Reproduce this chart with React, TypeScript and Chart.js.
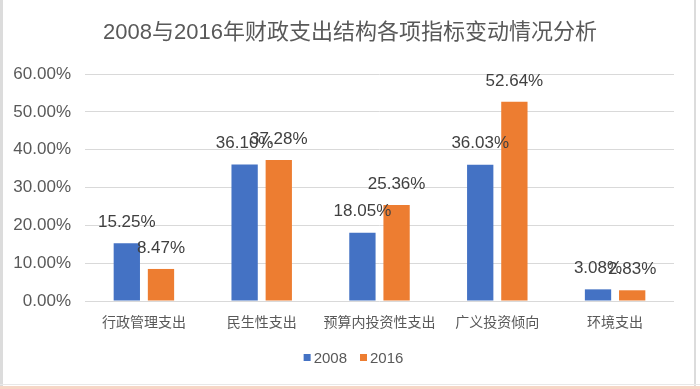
import React, { useEffect, useRef } from "react";
import { Chart, registerables } from "chart.js";

Chart.register(...registerables);

const categories = ["行政管理支出", "民生性支出", "预算内投资性支出", "广义投资倾向", "环境支出"];
const seriesNames = ["2008", "2016"];
const values2008 = [15.25, 36.1, 18.05, 36.03, 3.08];
const values2016 = [8.47, 37.28, 25.36, 52.64, 2.83];
const yMin = 0;
const yMax = 60;
const yStep = 10;
const titleText = "2008与2016年财政支出结构各项指标变动情况分析";

const FONT = '"Liberation Sans", "Noto Sans CJK SC", sans-serif';
const TEXT = "#595959";

const framePlugin = {
  id: "frame",
  beforeDraw(chart: any) {
    const { ctx, width, height } = chart;
    ctx.save();
    ctx.fillStyle = "#ffffff";
    ctx.fillRect(0, 0, width, height);
    ctx.fillStyle = "#dcdcdc";
    ctx.fillRect(0, 0, 3, height);
    ctx.fillRect(694, 0, 2, height);
    ctx.fillStyle = "#e8e8e8";
    ctx.fillRect(0, 384, width, 1);
    ctx.fillStyle = "#f6d6c6";
    ctx.fillRect(0, 386, width, 3);
    // title
    ctx.fillStyle = TEXT;
    ctx.font = `22px ${FONT}`;
    ctx.textAlign = "center";
    ctx.textBaseline = "middle";
    ctx.fillText(titleText, 350, 33);
    ctx.restore();
  },
};

const legendPlugin = {
  id: "customLegend",
  afterDraw(chart: any) {
    const { ctx } = chart;
    ctx.save();
    ctx.font = `15px ${FONT}`;
    ctx.textBaseline = "middle";
    ctx.textAlign = "left";
    const box = 7;
    const gap = 3;
    const itemGap = 13;
    const items = chart.data.datasets.map((ds: any) => ({
      label: ds.label,
      color: ds.backgroundColor,
      w: box + gap + ctx.measureText(ds.label).width,
    }));
    const total = items.reduce((a: number, it: any) => a + it.w, 0) + itemGap * (items.length - 1);
    let x = 353.5 - total / 2;
    const cy = 358;
    items.forEach((it: any) => {
      ctx.fillStyle = it.color;
      ctx.fillRect(x, cy - 4, box, box);
      ctx.fillStyle = TEXT;
      ctx.fillText(it.label, x + box + gap, cy + 1);
      x += it.w + itemGap;
    });
    ctx.restore();
  },
};

const labelPlugin = {
  id: "barLabels",
  afterDatasetsDraw(chart: any) {
    const { ctx } = chart;
    ctx.save();
    ctx.fillStyle = "#404040";
    ctx.font = `17px ${FONT}`;
    ctx.textAlign = "center";
    ctx.textBaseline = "middle";
    chart.data.datasets.forEach((ds: any, i: number) => {
      const meta = chart.getDatasetMeta(i);
      meta.data.forEach((el: any, j: number) => {
        const v = ds.data[j] as number;
        ctx.fillText(v.toFixed(2) + "%", el.x, el.y - 21);
      });
    });
    ctx.restore();
  },
};

export default function App() {
  const ref = useRef<HTMLCanvasElement | null>(null);
  useEffect(() => {
    if (!ref.current) return;
    const chart = new Chart(ref.current, {
      type: "bar",
      data: {
        labels: categories,
        datasets: [
          {
            label: seriesNames[0],
            data: values2008,
            backgroundColor: "#4472C4",
            categoryPercentage: 0.58,
            barPercentage: 0.77,
          },
          {
            label: seriesNames[1],
            data: values2016,
            backgroundColor: "#ED7D31",
            categoryPercentage: 0.58,
            barPercentage: 0.77,
          },
        ],
      },
      options: {
        responsive: false,
        animation: false,
        devicePixelRatio: 1,
        layout: { padding: { left: 0, right: 26, top: 74, bottom: 45 } },
        plugins: {
          title: { display: false },
          tooltip: { enabled: false },
          legend: { display: false },
        },
        scales: {
          x: {
            grid: { display: false },
            border: { display: false },
            ticks: {
              color: TEXT,
              font: { size: 14, family: FONT },
              padding: 6,
              maxRotation: 0,
              autoSkip: false,
            },
            afterFit: (s: any) => {
              s.height = 43;
            },
          },
          y: {
            min: yMin,
            max: yMax,
            border: { display: false },
            grid: { color: "#d9d9d9", drawTicks: false, lineWidth: 1 },
            ticks: {
              stepSize: yStep,
              color: TEXT,
              font: { size: 17, family: FONT },
              padding: 14,
              callback: (v: any) => Number(v).toFixed(2) + "%",
            },
            afterFit: (s: any) => {
              s.width = 85;
            },
          },
        },
      },
      plugins: [framePlugin, labelPlugin, legendPlugin],
    });
    return () => chart.destroy();
  }, []);
  return (
    <div style={{ position: "absolute", left: 0, top: 0, width: 700, height: 389 }}>
      <canvas ref={ref} width={700} height={389} style={{ display: "block" }} />
    </div>
  );
}
